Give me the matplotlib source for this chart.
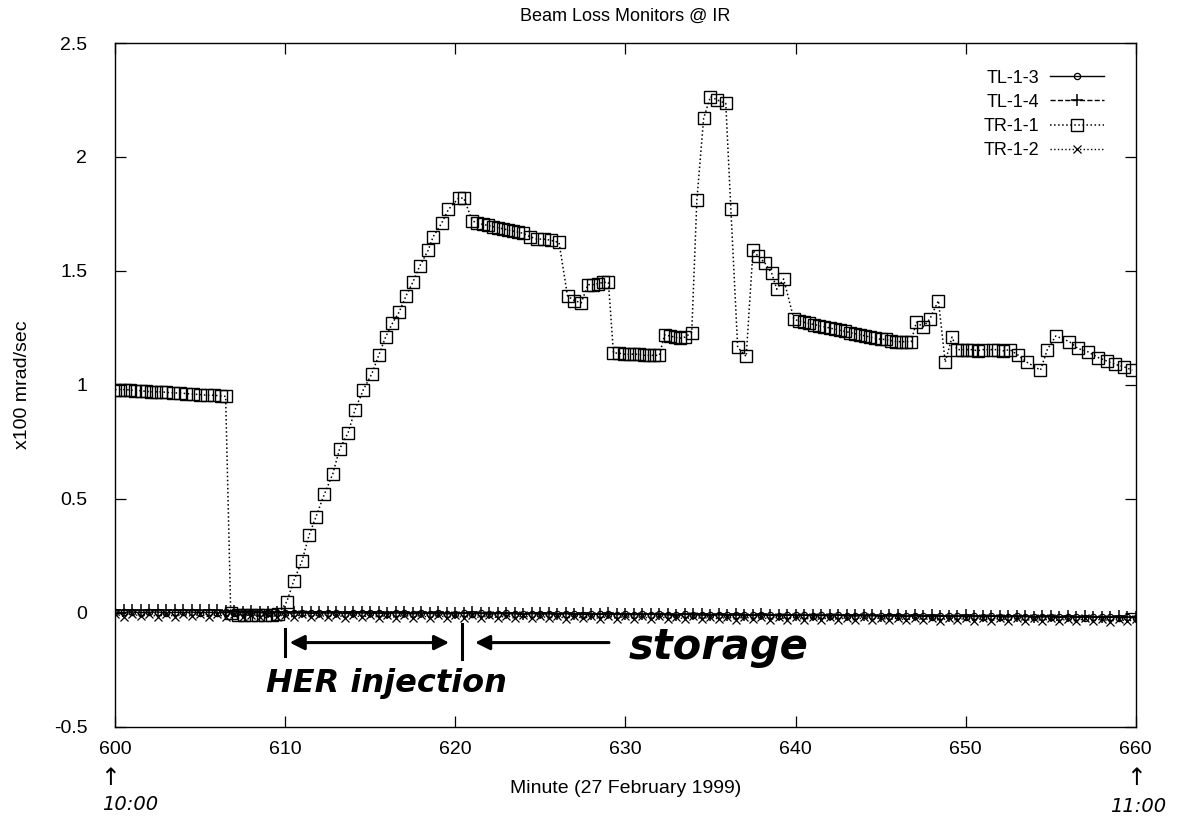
import numpy as np
import matplotlib
matplotlib.use("Agg")
import matplotlib.pyplot as plt

plt.rcParams["font.family"] = ["Liberation Sans", "DejaVu Sans"]

# TR-1-1 samples (minute, x100 mrad/sec)
tr11_t = [600.0, 600.3, 600.6, 600.9, 601.2, 601.5, 601.8, 602.1, 602.4, 602.7,
          603.0, 603.4, 603.8, 604.2, 604.6, 605.0, 605.4, 605.8, 606.2, 606.5,
          606.8, 607.2, 607.6, 608.0, 608.4, 608.8, 609.2, 609.6,
          610.1, 610.5, 611.0, 611.4, 611.8, 612.3, 612.8, 613.2, 613.7, 614.1,
          614.6, 615.1, 615.5, 615.9, 616.3, 616.7, 617.1, 617.5, 617.9, 618.4,
          618.7, 619.2, 619.6, 620.2, 620.5,
          621.0, 621.3, 621.6, 621.9, 622.2, 622.5, 622.8, 623.1, 623.4, 623.7,
          624.0, 624.4, 624.8, 625.2, 625.6, 626.1,
          626.6, 627.0, 627.4,
          627.8, 628.1, 628.4, 628.7, 629.0,
          629.3, 629.6, 629.9, 630.2, 630.5, 630.8, 631.1, 631.4, 631.7, 632.0,
          632.3, 632.6, 632.9, 633.2, 633.5, 633.9,
          634.2, 634.6, 635.0, 635.4, 635.9, 636.2, 636.6, 637.1,
          637.5, 637.8, 638.2, 638.6, 638.9, 639.3,
          639.9, 640.2, 640.5, 640.8, 641.1, 641.4, 641.7, 642.0, 642.3, 642.6,
          642.9, 643.2, 643.5, 643.8, 644.1, 644.4, 644.7, 645.0, 645.3, 645.6,
          645.9, 646.2, 646.5, 646.8,
          647.1, 647.5, 647.9, 648.4, 648.8, 649.2,
          649.5, 649.8, 650.1, 650.4, 650.7, 651.0,
          651.6, 651.9, 652.2, 652.6,
          653.1, 653.6, 654.4, 654.8, 655.3, 656.1, 656.6, 657.2, 657.8, 658.3,
          658.8, 659.3, 659.8]
tr11 = [0.98, 0.98, 0.98, 0.978, 0.975, 0.975, 0.972, 0.97, 0.97, 0.97,
        0.968, 0.965, 0.965, 0.962, 0.96, 0.958, 0.955, 0.955, 0.952, 0.95,
        0.0, -0.008, -0.01, -0.01, -0.01, -0.01, -0.008, -0.006,
        0.05, 0.14, 0.23, 0.34, 0.42, 0.52, 0.61, 0.72, 0.79, 0.89,
        0.98, 1.05, 1.13, 1.21, 1.27, 1.32, 1.39, 1.45, 1.52, 1.59,
        1.65, 1.71, 1.77, 1.82, 1.82,
        1.72, 1.71, 1.705, 1.70, 1.695, 1.69, 1.685, 1.68, 1.675, 1.67,
        1.665, 1.65, 1.64, 1.64, 1.635, 1.625,
        1.39, 1.37, 1.36,
        1.44, 1.44, 1.445, 1.45, 1.45,
        1.14, 1.14, 1.135, 1.135, 1.135, 1.135, 1.13, 1.13, 1.13, 1.13,
        1.22, 1.215, 1.21, 1.205, 1.21, 1.23,
        1.81, 2.17, 2.265, 2.25, 2.235, 1.77, 1.165, 1.125,
        1.59, 1.565, 1.535, 1.49, 1.42, 1.465,
        1.29, 1.28, 1.275, 1.27, 1.265, 1.26, 1.255, 1.25, 1.245, 1.24,
        1.235, 1.23, 1.225, 1.22, 1.215, 1.21, 1.205, 1.20, 1.20, 1.195,
        1.19, 1.19, 1.19, 1.19,
        1.275, 1.255, 1.29, 1.37, 1.10, 1.21,
        1.155, 1.155, 1.155, 1.155, 1.15, 1.155,
        1.155, 1.155, 1.15, 1.155,
        1.13, 1.10, 1.065, 1.155, 1.215, 1.19, 1.16, 1.145, 1.12, 1.105,
        1.09, 1.08, 1.065]

# the other three monitors, every half minute
t_half = np.arange(600.0, 660.01, 0.5)
tl13 = [0.004, 0.002, 0.005, 0.001, 0.003, 0.004, 0.000, 0.003, 0.002, 0.004,
        0.001, 0.003, 0.000, 0.002, -0.001, 0.002, 0.000, 0.001, -0.002, 0.001,
        0.000, -0.001, 0.001, -0.002, 0.000, -0.001, 0.001, -0.003, -0.001, 0.000,
        -0.002, -0.001, -0.003, 0.000, -0.002, -0.004, -0.001, -0.003, -0.002, -0.004,
        -0.003, -0.001, -0.004, -0.002, -0.005, -0.003, -0.002, -0.004, -0.006, -0.003,
        -0.005, -0.004, -0.006, -0.003, -0.005, -0.007, -0.004, -0.006, -0.005, -0.007,
        -0.006, -0.008, -0.005, -0.007, -0.006, -0.009, -0.007, -0.006, -0.008, -0.010,
        -0.007, -0.009, -0.008, -0.010, -0.008, -0.011, -0.009, -0.010, -0.012, -0.009,
        -0.011, -0.010, -0.012, -0.011, -0.013, -0.010, -0.012, -0.014, -0.011, -0.013,
        -0.012, -0.014, -0.013, -0.015, -0.012, -0.014, -0.016, -0.013, -0.015, -0.014,
        -0.016, -0.015, -0.017, -0.014, -0.016, -0.018, -0.015, -0.017, -0.016, -0.018,
        -0.017, -0.019, -0.016, -0.018, -0.020, -0.017, -0.019, -0.018, -0.020, -0.019,
        -0.021]
tl14 = [0.012, 0.014, 0.011, 0.013, 0.015, 0.012, 0.014, 0.011, 0.013, 0.012,
        0.014, 0.011, 0.013, 0.010, 0.008, 0.006, 0.007, 0.005, 0.006, 0.004,
        0.006, 0.005, 0.003, 0.006, 0.004, 0.005, 0.002, 0.004, 0.003, 0.005,
        0.002, 0.004, 0.001, 0.003, 0.002, 0.000, 0.003, 0.001, 0.002, -0.001,
        0.001, 0.000, 0.002, -0.001, 0.001, -0.002, 0.000, -0.001, -0.003, 0.000,
        -0.002, -0.001, -0.003, -0.002, -0.004, -0.001, -0.003, -0.005, -0.002, -0.004,
        -0.003, -0.005, -0.004, -0.006, -0.003, -0.005, -0.007, -0.004, -0.006, -0.005,
        -0.007, -0.006, -0.008, -0.005, -0.007, -0.009, -0.006, -0.008, -0.007, -0.009,
        -0.008, -0.010, -0.007, -0.009, -0.011, -0.008, -0.010, -0.009, -0.011, -0.010,
        -0.012, -0.009, -0.011, -0.013, -0.010, -0.012, -0.011, -0.013, -0.012, -0.014,
        -0.011, -0.013, -0.015, -0.012, -0.014, -0.013, -0.015, -0.014, -0.016, -0.013,
        -0.015, -0.017, -0.014, -0.016, -0.015, -0.017, -0.016, -0.018, -0.015, -0.017,
        -0.018]
tr12 = [-0.004, -0.016, -0.003, -0.015, -0.005, -0.017, -0.004, -0.016, -0.006, -0.015,
        -0.005, -0.017, -0.006, -0.018, -0.005, -0.016, -0.007, -0.018, -0.006, -0.017,
        -0.007, -0.019, -0.006, -0.018, -0.008, -0.019, -0.007, -0.020, -0.008, -0.019,
        -0.009, -0.020, -0.008, -0.021, -0.009, -0.020, -0.010, -0.022, -0.009, -0.021,
        -0.010, -0.022, -0.011, -0.023, -0.010, -0.022, -0.012, -0.024, -0.011, -0.023,
        -0.012, -0.024, -0.013, -0.025, -0.012, -0.024, -0.014, -0.026, -0.013, -0.025,
        -0.014, -0.026, -0.015, -0.027, -0.014, -0.026, -0.016, -0.028, -0.015, -0.027,
        -0.016, -0.028, -0.017, -0.029, -0.016, -0.028, -0.018, -0.030, -0.017, -0.029,
        -0.018, -0.030, -0.019, -0.031, -0.018, -0.030, -0.020, -0.032, -0.019, -0.031,
        -0.020, -0.032, -0.021, -0.033, -0.020, -0.032, -0.022, -0.034, -0.021, -0.033,
        -0.022, -0.034, -0.023, -0.035, -0.022, -0.034, -0.024, -0.036, -0.023, -0.035,
        -0.024, -0.036, -0.025, -0.037, -0.024, -0.036, -0.026, -0.038, -0.025, -0.037,
        -0.026]

fig = plt.figure(figsize=(11.8, 8.27), dpi=100)
ax = fig.add_axes([0.0975, 0.121, 0.865, 0.827])

ax.plot(t_half, tl13, "-", color="black", lw=1.0, marker="o", ms=4.5,
        mfc="none", mew=0.9, label="TL-1-3")
ax.plot(t_half, tl14, "--", color="black", lw=1.0, marker="+", ms=8,
        mew=1.1, label="TL-1-4")
ax.plot(tr11_t, tr11, ":", color="black", lw=1.1, marker="s", ms=8,
        mfc="none", mew=1.0, label="TR-1-1")
ax.plot(t_half, tr12, ":", color="black", lw=1.0, marker="x", ms=5.5,
        mew=0.9, label="TR-1-2")

ax.set_xlim(600, 660)
ax.set_ylim(-0.5, 2.5)
ax.set_xticks([600, 610, 620, 630, 640, 650, 660])
ax.set_yticks([-0.5, 0, 0.5, 1, 1.5, 2, 2.5])
ax.set_yticklabels(["-0.5", "0", "0.5", "1", "1.5", "2", "2.5"])
ax.tick_params(direction="in", length=8, width=0.9, top=True, right=True,
               labelsize=14)
ax.tick_params(axis="y", pad=20)
ax.tick_params(axis="x", pad=10)
for s in ax.spines.values():
    s.set_linewidth(1.0)

ax.set_title("Beam Loss Monitors @ IR", fontsize=13, pad=16)
ax.set_xlabel("Minute (27 February 1999)", fontsize=14, labelpad=16)
ax.set_ylabel("x100 mrad/sec", fontsize=14, labelpad=16)

ax.legend(loc="upper right", bbox_to_anchor=(0.985, 0.985), frameon=False,
          markerfirst=False, fontsize=13, handlelength=3.0,
          labelspacing=0.4, handletextpad=0.6)

# hand-written annotations
hand = dict(fontstyle="italic", fontweight="bold", family=["DejaVu Sans"])
ax.annotate("", xy=(610.1, -0.13), xytext=(619.8, -0.13),
            arrowprops=dict(arrowstyle="<|-|>", color="black", lw=2.2,
                            mutation_scale=22), annotation_clip=False)
ax.plot([610.0, 610.0], [-0.07, -0.19], color="black", lw=2.2)
ax.plot([620.4, 620.4], [-0.05, -0.20], color="black", lw=2.2)
ax.annotate("", xy=(621.0, -0.13), xytext=(629.2, -0.13),
            arrowprops=dict(arrowstyle="-|>", color="black", lw=2.2,
                            mutation_scale=22), annotation_clip=False)
ax.text(630.2, -0.15, "storage", fontsize=30, va="center", ha="left", **hand)
ax.text(608.9, -0.31, "HER injection", fontsize=23, va="center", ha="left",
        **hand)

fig.text(110 / 1180, 1 - 778 / 827, "\u2191", fontsize=17, ha="center",
         va="center", family=["DejaVu Sans"])
fig.text(130 / 1180, 1 - 805 / 827, "10:00", fontsize=14, ha="center",
         va="center", fontstyle="italic", family=["DejaVu Sans"])
fig.text(1136 / 1180, 1 - 778 / 827, "\u2191", fontsize=17, ha="center",
         va="center", family=["DejaVu Sans"])
fig.text(1138 / 1180, 1 - 806 / 827, "11:00", fontsize=14, ha="center",
         va="center", fontstyle="italic", family=["DejaVu Sans"])

fig.savefig("out.png", dpi=100)
